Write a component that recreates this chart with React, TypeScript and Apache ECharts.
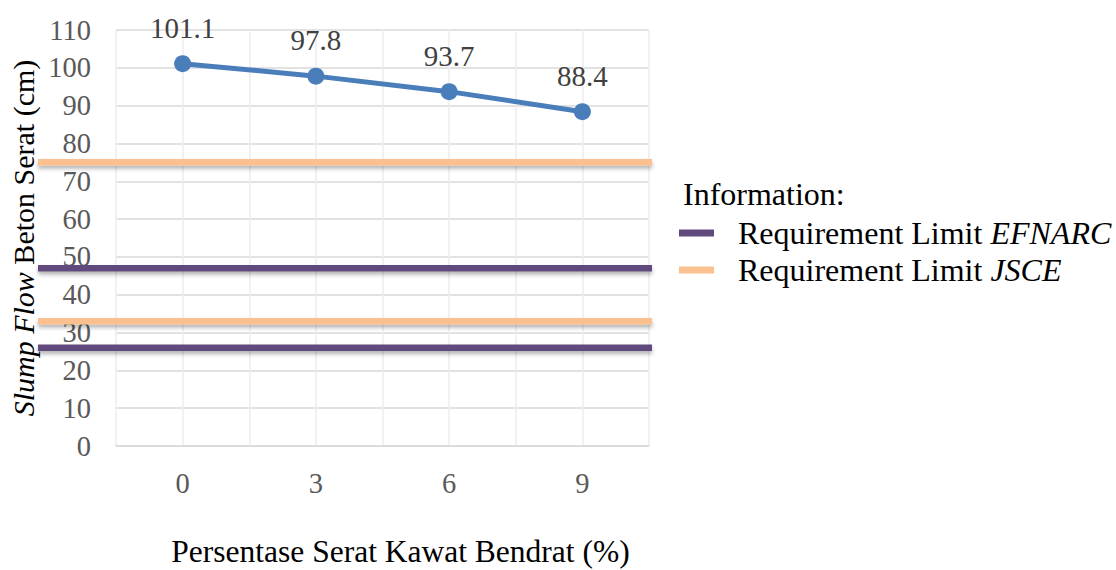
import React, { useEffect, useRef } from "react";
import * as echarts from "echarts";

const xValues = [0, 3, 6, 9];
const xTickLabels = ["0", "3", "6", "9"];
const slumpFlow = [101.1, 97.8, 93.7, 88.4];
const efnarcLimits = [47, 26];
const jsceLimits = [75, 33];
const yTicks = { min: 0, max: 110, step: 10 };

const FONT = "'Liberation Serif', 'Times New Roman', serif";
const BLUE = "#4A7EBB";
const PURPLE = "#604A7B";
const ORANGE = "#FAC090";

export default function App() {
  const ref = useRef<HTMLDivElement>(null);
  useEffect(() => {
    if (!ref.current) return;
    const chart = echarts.init(ref.current, null, { renderer: "svg" });
    const option: any = {
      animation: false,
      backgroundColor: "#ffffff",
      textStyle: { fontFamily: FONT },
      grid: { left: 116, right: 467, top: 30, bottom: 124, outerBoundsMode: "none", containLabel: false },
      title: {
        text: "Information:",
        left: 683,
        top: 178,
        padding: 0,
        textStyle: { fontFamily: FONT, fontSize: 32, lineHeight: 32, fontWeight: "normal", color: "#000" },
      },
      legend: {
        orient: "vertical",
        left: 679,
        top: 217,
        padding: 0,
        itemWidth: 35,
        itemHeight: 7,
        itemGap: 5,
        icon: "rect",
        data: ["EFNARC", "JSCE"],
        formatter: (name: string) => `{n|Requirement Limit }{i|${name}}`,
        textStyle: {
          fontFamily: FONT,
          fontSize: 32,
          color: "#000",
          padding: [0, 0, 0, 19],
          rich: {
            n: { fontFamily: FONT, fontSize: 32, lineHeight: 32, color: "#000" },
            i: { fontFamily: FONT, fontSize: 32, lineHeight: 32, color: "#000", fontStyle: "italic" },
          },
        },
      },
      xAxis: {
        type: "value",
        min: -1.5,
        max: 10.5,
        interval: 1.5,
        name: "Persentase Serat Kawat Bendrat (%)",
        nameLocation: "middle",
        nameGap: 90,
        nameTextStyle: { fontFamily: FONT, fontSize: 31.5, lineHeight: 31.5, color: "#000", padding: [0, 0, 0, 36] },
        axisLine: { show: true, lineStyle: { color: "#d9d9d9", width: 1.5 } },
        axisTick: { show: false },
        axisLabel: {
          margin: 23,
          fontFamily: FONT,
          fontSize: 28.5,
          color: "#595959",
          formatter: (v: number) => {
            const i = xValues.indexOf(v);
            return i >= 0 ? xTickLabels[i] : "";
          },
        },
        splitLine: { show: true, lineStyle: { color: "#ececec", width: 1.5 } },
      },
      yAxis: {
        type: "value",
        min: yTicks.min,
        max: yTicks.max,
        interval: yTicks.step,
        name: "{i|Slump Flow} Beton Serat (cm)",
        nameLocation: "middle",
        nameRotate: 90,
        nameGap: 78,
        nameTextStyle: {
          fontFamily: FONT,
          fontSize: 30,
          lineHeight: 30,
          color: "#000",
          rich: { i: { fontFamily: FONT, fontSize: 30, lineHeight: 30, color: "#000", fontStyle: "italic" } },
        },
        axisLine: { show: false },
        axisTick: { show: false },
        axisLabel: { margin: 25, fontFamily: FONT, fontSize: 28.5, color: "#595959" },
        splitLine: { show: true, lineStyle: { color: "#d9d9d9", width: 1.5 } },
      },
      series: [
        {
          name: "Slump Flow",
          type: "line",
          data: xValues.map((x, i) => [x, slumpFlow[i]]),
          symbol: "circle",
          symbolSize: 17,
          lineStyle: { color: BLUE, width: 5 },
          itemStyle: { color: BLUE },
          label: {
            show: true,
            position: "top",
            distance: 13,
            fontFamily: FONT,
            fontSize: 29,
            color: "#404040",
            formatter: (p: any) => String(p.value[1]),
          },
          z: 3,
        },
        { name: "EFNARC", type: "line", data: [], itemStyle: { color: PURPLE }, lineStyle: { color: PURPLE } },
        { name: "JSCE", type: "line", data: [], itemStyle: { color: ORANGE }, lineStyle: { color: ORANGE } },
      ],
    };
    chart.setOption(option);

    const mkLine = (v: number, color: string) => {
      const y = chart.convertToPixel({ yAxisIndex: 0 }, v) as number;
      return {
        type: "rect",
        z: 100,
        shape: { x: 38, y: y - 3.25, width: 614, height: 6.5 },
        style: {
          fill: color,
          shadowBlur: 4,
          shadowColor: "rgba(0,0,0,0.3)",
          shadowOffsetY: 3,
        },
      };
    };
    chart.setOption({
      graphic: [
        ...jsceLimits.map((v) => mkLine(v, ORANGE)),
        ...efnarcLimits.map((v) => mkLine(v, PURPLE)),
      ],
    });

    return () => chart.dispose();
  }, []);
  return (
    <div
      ref={ref}
      style={{ position: "fixed", left: 0, top: 0, width: 1116, height: 570 }}
    />
  );
}
